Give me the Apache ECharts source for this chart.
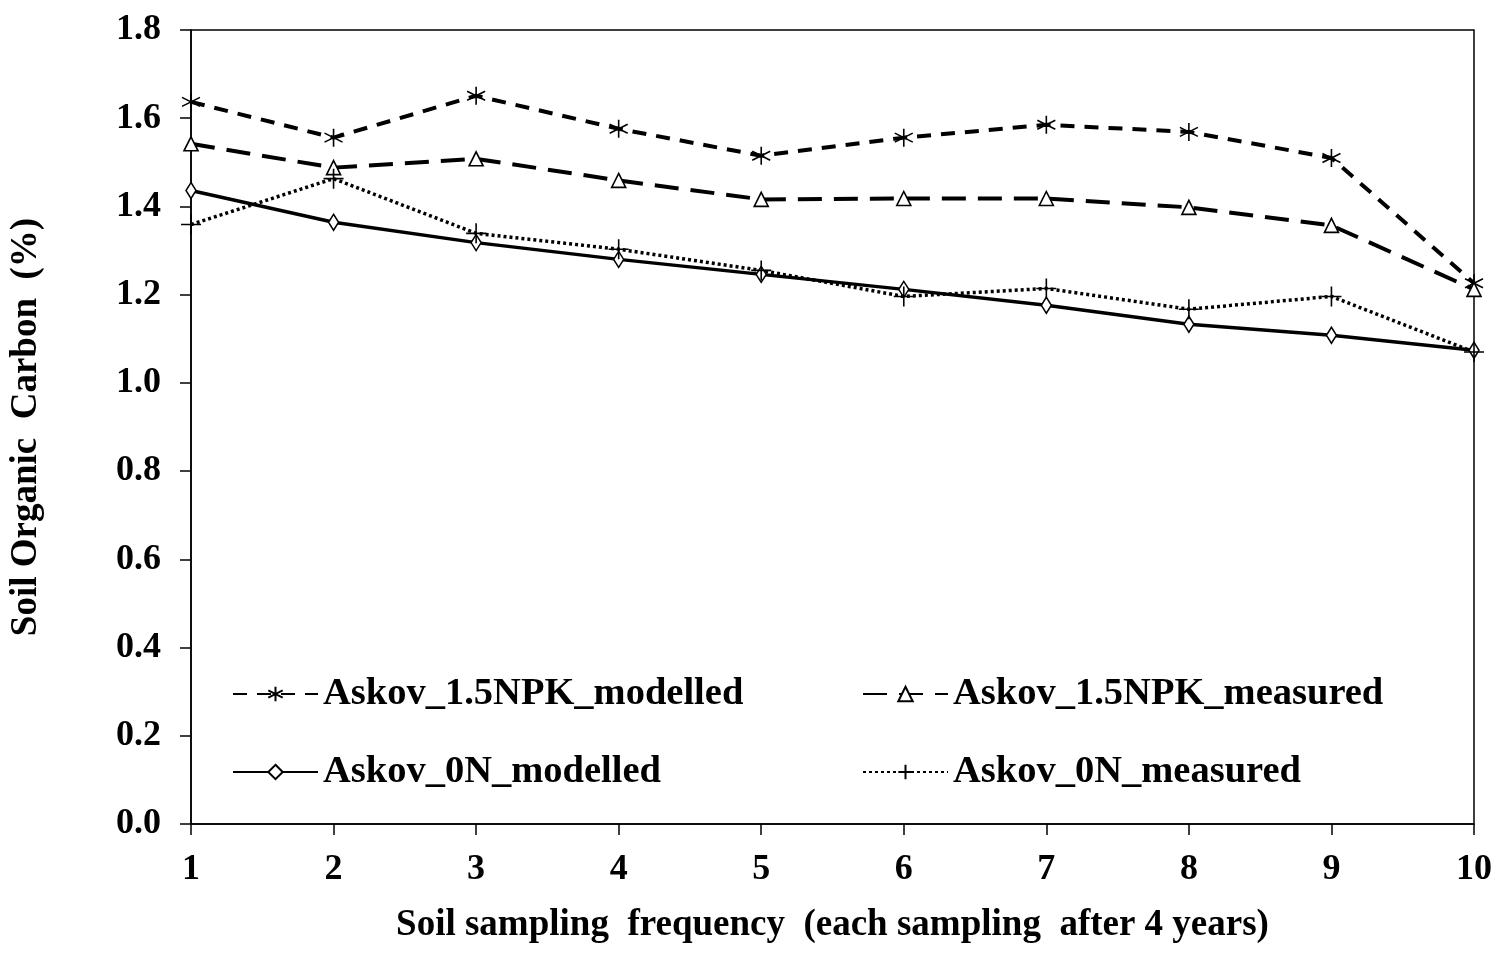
<!DOCTYPE html>
<html><head><meta charset="utf-8">
<script src="https://cdn.jsdelivr.net/npm/echarts@6/dist/echarts.min.js"></script>
<style>html,body{margin:0;padding:0;background:#fff}#c{width:1500px;height:955px}</style>
</head><body><div id="c"></div>
<script>
const categories = ['1','2','3','4','5','6','7','8','9','10'];
const npkModelled = [1.637, 1.556, 1.651, 1.576, 1.515, 1.556, 1.585, 1.569, 1.510, 1.226];
const npkMeasured = [1.542, 1.488, 1.508, 1.459, 1.416, 1.418, 1.418, 1.398, 1.357, 1.212];
const onModelled = [1.436, 1.364, 1.318, 1.280, 1.246, 1.212, 1.176, 1.133, 1.108, 1.074];
const onMeasured = [1.359, 1.463, 1.339, 1.303, 1.255, 1.196, 1.214, 1.167, 1.196, 1.070];
const yTicks = { min: 0, max: 1.8, interval: 0.2 };
const names = ['Askov_1.5NPK_modelled','Askov_1.5NPK_measured','Askov_0N_modelled','Askov_0N_measured'];

const FONT = '"Liberation Serif","Times New Roman",serif';
const asterisk = 'path://M5,0L5,10M0.7,2.5L9.3,7.5M0.7,7.5L9.3,2.5';
const plus = 'path://M5,0L5,10M0,5L10,5';

const chart = echarts.init(document.getElementById('c'), null, {renderer:'canvas'});
const legendBase = (name, left, top) => ({
  data:[name], left, top, padding:0, itemWidth:85, itemHeight:18, itemGap:0,
  textStyle:{fontFamily:FONT, fontWeight:'bold', fontSize:38.5, color:'#000', lineHeight:40},
  selectedMode:false
});
const mk = (name, data, symbol, size, lineType, width) => ({
  name, type:'line', data, symbol, symbolSize:size, showSymbol:true, clip:false,
  lineStyle:{color:'#000', width, type:lineType},
  itemStyle:{color:'#fff', borderColor:'#000', borderWidth:1.6},
  emphasis:{disabled:true}, animation:false
});
chart.setOption({
  animation:false,
  backgroundColor:'#fff',
  grid:{left:190, right:26, top:30, bottom:131, show:true, borderColor:'#000', borderWidth:1.5},
  legend:[
    legendBase(names[0], 232, 674),
    legendBase(names[1], 862, 674),
    legendBase(names[2], 232, 752),
    legendBase(names[3], 862, 752)
  ],
  xAxis:{
    type:'category', data:categories, boundaryGap:false,
    name:'Soil sampling  frequency  (each sampling  after 4 years)',
    nameLocation:'middle', nameGap:83,
    nameTextStyle:{fontFamily:FONT, fontWeight:'bold', fontSize:37, color:'#000'},
    axisLine:{lineStyle:{color:'#000', width:1.5}},
    axisTick:{show:true, alignWithLabel:true, length:11, lineStyle:{color:'#000', width:1.5}},
    axisLabel:{fontFamily:FONT, fontWeight:'bold', fontSize:36, color:'#000', margin:28},
    splitLine:{show:false}
  },
  yAxis:{
    type:'value', min:yTicks.min, max:yTicks.max, interval:yTicks.interval,
    name:'Soil Organic  Carbon  (%)', nameLocation:'middle', nameGap:146,
    nameTextStyle:{fontFamily:FONT, fontWeight:'bold', fontSize:37, color:'#000'},
    axisLine:{show:true, lineStyle:{color:'#000', width:1.5}},
    axisTick:{show:true, length:11, lineStyle:{color:'#000', width:1.5}},
    axisLabel:{fontFamily:FONT, fontWeight:'bold', fontSize:36, color:'#000', margin:30,
      formatter:v=>v.toFixed(1)},
    splitLine:{show:false}
  },
  series:[
    mk(names[0], npkModelled, asterisk, 18, [14,10], 4),
    mk(names[1], npkMeasured, 'triangle', 14, [24,12], 4),
    mk(names[2], onModelled, 'diamond', [10,16], 'solid', 3.5),
    mk(names[3], onMeasured, plus, 20, [3,3], 3.5)
  ]
});
</script></body></html>
